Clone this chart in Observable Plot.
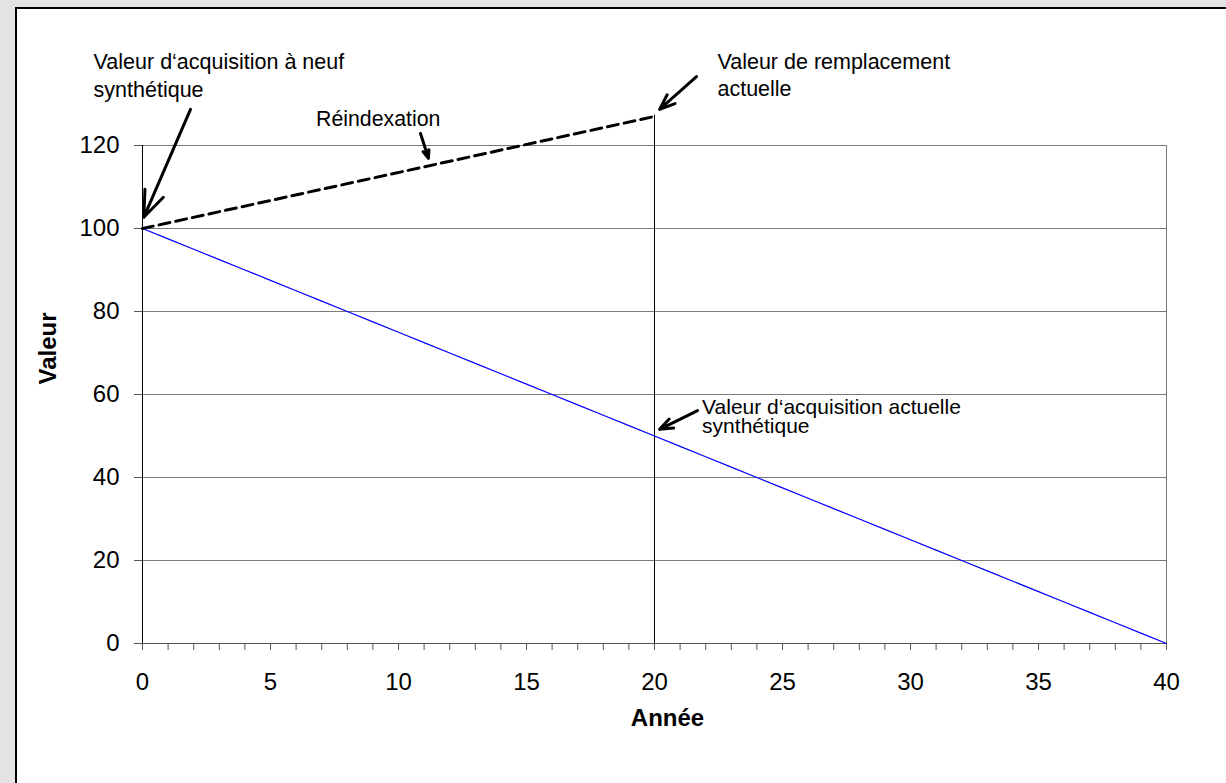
<!DOCTYPE html>
<html><head><meta charset="utf-8">
<script src="https://cdn.jsdelivr.net/npm/d3@7"></script>
<script src="https://cdn.jsdelivr.net/npm/@observablehq/plot@0.6"></script>
<style>
html,body{margin:0;padding:0;background:#e3e3e5;width:1226px;height:783px;overflow:hidden;position:relative;}
#panel{position:absolute;left:15px;top:7px;width:1240px;height:800px;background:#fff;border-left:2px solid #000;border-top:2px solid #000;}
#chart{position:absolute;left:0;top:0;}
</style></head><body><div id="panel"></div><div id="chart"></div>
<script>
// Data
const years = [0,1,2,3,4,5,6,7,8,9,10,11,12,13,14,15,16,17,18,19,20,21,22,23,24,25,26,27,28,29,30,31,32,33,34,35,36,37,38,39,40];
const valeurAcquisition = [100,97.5,95,92.5,90,87.5,85,82.5,80,77.5,75,72.5,70,67.5,65,62.5,60,57.5,55,52.5,50,47.5,45,42.5,40,37.5,35,32.5,30,27.5,25,22.5,20,17.5,15,12.5,10,7.5,5,2.5,0];
const reindexYears = [0, 20];
const reindexValues = [100, 127];
const yTicks = [0,20,40,60,80,100,120];
const xLabelTicks = [0,5,10,15,20,25,30,35,40];
const anneeCourante = 20;
const valeurRemplacement = 127.3;

const labelTexts = ["Valeur d‘acquisition à neuf","synthétique","Réindexation","Valeur de remplacement","actuelle","Valeur d‘acquisition actuelle","synthétique"];
const labelX = [-1.91,-1.91,6.78,22.46,22.46,21.86,21.86];
const labelY = [140.0,133.4,126.3,140.0,133.5,56.9,52.4];
const labelSize = [21.5,21.5,21.3,21.5,21.5,21,21];

const arrowX1 = [1.875,10.86,21.64,21.68];
const arrowY1 = [128.7,122.9,136.6,56.1];
const arrowX2 = [0.05,11.17,20.2,20.2];
const arrowY2 = [102.7,116.9,128.7,51.6];

const acq = years.map((x,i)=>({x, y: valeurAcquisition[i]}));
const reidx = reindexYears.map((x,i)=>({x, y: reindexValues[i]}));
const labels = labelTexts.map((t,i)=>({text:t, x:labelX[i], y:labelY[i], size:labelSize[i]}));
const arrows = arrowX1.map((x1,i)=>({x1, y1:arrowY1[i], x2:arrowX2[i], y2:arrowY2[i]}));

const chart = Plot.plot({
  width: 1226, height: 783,
  marginLeft: 142, marginRight: 60, marginTop: 145, marginBottom: 140,
  x: {domain: [0, 40]},
  y: {domain: [0, 120]},
  style: {fontFamily: "'Liberation Sans', Arial, sans-serif", background: "transparent", overflow: "visible", color: "#000"},
  marks: [
    Plot.gridY(yTicks.filter(d => d > 0), {stroke: "#7a7a7a", strokeOpacity: 1}),
    Plot.ruleX([40], {y1: 0, y2: 120, stroke: "#7a7a7a"}),
    Plot.ruleY([0], {stroke: "#555"}),
    Plot.ruleX([0], {y1: 0, y2: 120, stroke: "#000"}),
    Plot.ruleX([anneeCourante], {y1: 0, y2: valeurRemplacement, stroke: "#000"}),
    Plot.axisY({ticks: yTicks, tickSize: 8, tickPadding: 15, fontSize: 24, label: null, stroke: "#555"}),
    Plot.axisX({ticks: years, tickSize: 7, tickPadding: 22, fontSize: 24, label: null, stroke: "#555",
      tickFormat: d => xLabelTicks.includes(d) ? String(d) : ""}),
    Plot.text(["Année"], {text: d => d, frameAnchor: "bottom", dy: 82, dx: 13, fontSize: 24, fontWeight: "bold"}),
    Plot.text(["Valeur"], {text: d => d, frameAnchor: "left", dx: -94, dy: -10, rotate: -90, fontSize: 24, fontWeight: "bold"}),
    Plot.line(acq, {x: "x", y: "y", stroke: "#0000ff", strokeWidth: 1.2}),
    Plot.line(reidx, {x: "x", y: "y", stroke: "#000", strokeWidth: 3, strokeDasharray: "11,6"}),
    Plot.arrow(arrows, {x1: "x1", y1: "y1", x2: "x2", y2: "y2", stroke: "#000", strokeWidth: 3, headLength: 14, headAngle: 42}),
    Plot.text(labels, {x: "x", y: "y", text: "text", textAnchor: "start", fontSize: d => d.size, fill: "#000"})
  ]
});
document.getElementById("chart").appendChild(chart);
</script></body></html>
